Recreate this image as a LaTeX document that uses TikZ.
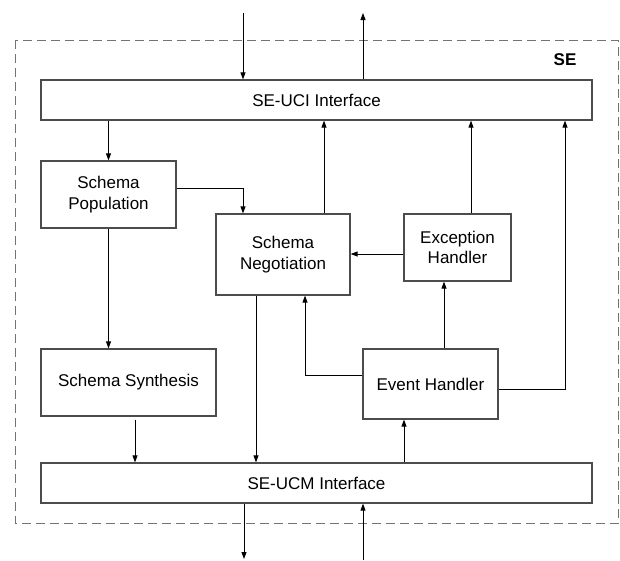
\documentclass[tikz,border=0pt]{standalone}
\usepackage{fontspec}
\setmainfont{Liberation Sans}
\usetikzlibrary{arrows.meta,calc}
\begin{document}
\begin{tikzpicture}[x=1pt,y=-1pt,
 box/.style={draw=black!70,line width=1.2pt,fill=white,inner sep=0pt,align=center,font=\fontsize{17}{20.5}\selectfont},
 arr/.style={draw=black,line width=0.9pt,-{Triangle[length=7pt,width=5pt]}}]
\useasboundingbox (0,0) rectangle (620,560);
\draw[black!55,line width=1pt,dash pattern=on 9pt off 5pt] (15,40) rectangle (618.5,523);
\node[font=\bfseries\fontsize{17}{20}\selectfont] (se) at (565,60) {SE};
\node[box,minimum width=551pt,minimum height=40pt] (uci) at (316.5,100) {SE-UCI Interface};
\node[box,minimum width=135pt,minimum height=67pt] (pop) at (108.5,194.5) {Schema\\Population};
\node[box,minimum width=134pt,minimum height=81pt] (neg) at (283,254.5) {Schema\\Negotiation};
\node[box,minimum width=107pt,minimum height=67pt] (exc) at (457.5,247.5) {Exception\\Handler};
\node[box,minimum width=175pt,minimum height=67pt] (syn) at (128.5,382.5) {Schema Synthesis};
\node[box,minimum width=135pt,minimum height=70pt] (ev) at (430.5,384) {Event Handler};
\node[box,minimum width=551pt,minimum height=40pt] (ucm) at (316.5,483) {SE-UCM Interface};
\coordinate (tin) at (243,13);
\coordinate (tout) at (363,13);
\coordinate (bout) at (244,559);
\coordinate (bin) at (363,560);
\coordinate (c188) at (0,188);
\coordinate (c243) at (243,0);
\coordinate (c324) at (324,0);
\coordinate (c471) at (471,0);
\coordinate (c254) at (0,254);
\coordinate (c375) at (0,375);
\coordinate (c305) at (305,0);
\coordinate (c444) at (444,0);
\coordinate (c389) at (0,389);
\coordinate (c565) at (565,0);
\coordinate (c135) at (135,0);
\coordinate (c256) at (256,0);
\coordinate (c404) at (404,0);
\draw[arr] (tin) -- (tin |- uci.north);
\draw[arr] (tout |- uci.north) -- (tout);
\draw[arr] (uci.south -| pop.north) -- (pop.north);
\draw[arr] (pop.east |- c188) -| (neg.north -| c243);
\draw[arr] (neg.north -| c324) -- (uci.south -| c324);
\draw[arr] (exc.north -| c471) -- (uci.south -| c471);
\draw[arr] (exc.west |- c254) -- (neg.east |- c254);
\draw[arr] (pop.south) -- (pop.south |- syn.north);
\draw[arr] (ev.west |- c375) -| (neg.south -| c305);
\draw[arr] (ev.north -| c444) -- (exc.south -| c444);
\draw[arr] (ev.east |- c389) -| (uci.south -| c565);
\draw[arr] ($(syn.south -| c135)+(0,3)$) -- (ucm.north -| c135);
\draw[arr] (neg.south -| c256) -- (ucm.north -| c256);
\draw[arr] (ucm.north -| c404) -- (ev.south -| c404);
\draw[arr] (ucm.south -| bout) -- (bout);
\draw[arr] (bin) -- (ucm.south -| bin);
\end{tikzpicture}
\end{document}
